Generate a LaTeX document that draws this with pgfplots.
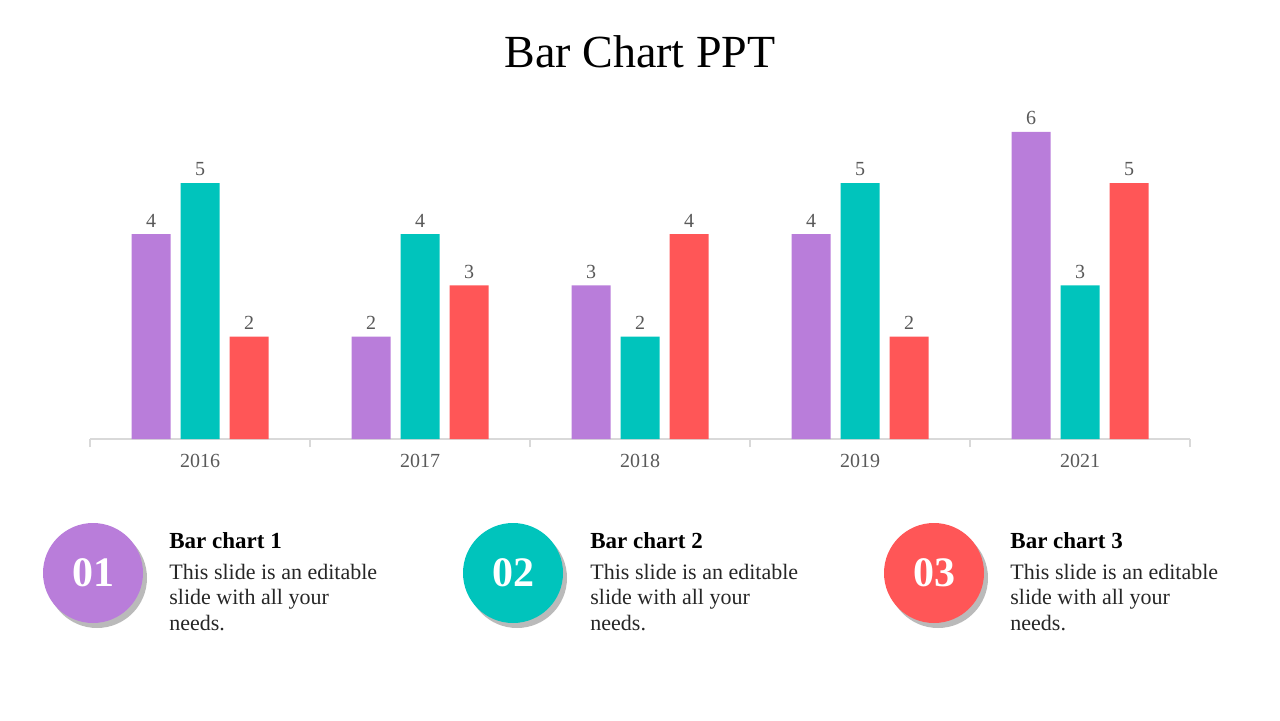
\documentclass[border=0pt]{standalone}
\usepackage{fontspec}
\setmainfont{Liberation Serif}
\usepackage{xcolor}
\definecolor{barPurple}{HTML}{B97DDA}
\definecolor{barTeal}{HTML}{00C4BC}
\definecolor{barRed}{HTML}{FF5657}
\definecolor{axisGray}{HTML}{D9D9D9}
\definecolor{labelGray}{HTML}{595959}
\definecolor{bodyText}{HTML}{262626}
\usepackage{tikz}
\usepackage{pgfplots}
\pgfplotsset{compat=1.18}
\usetikzlibrary{shadows}

\begin{document}
\begin{tikzpicture}
% slide frame, 1 px = 0.5pt
\begin{scope}[x=0.5pt,y=0.5pt]
  \path (0,0) rectangle (1280,720);
  \node[font=\fontsize{23}{27}\selectfont] at (640,668) {Bar Chart PPT};
\end{scope}

\begin{axis}[
    at={(45pt,140.5pt)}, anchor=south west,
    scale only axis, width=550pt, height=179.2pt,
    ybar=5pt, bar width=19.5pt,
    xmin=-0.5, xmax=4.5, ymin=0, ymax=7,
    xtick={0,1,2,3,4},
    xticklabels={2016,2017,2018,2019,2021},
    minor xtick={-0.5,0.5,1.5,2.5,3.5,4.5},
    major tick length=0pt, minor tick length=4pt,
    axis x line=bottom, axis y line=none,
    xtick align=outside,
    axis line style={-, draw=axisGray, line width=0.6pt},
    tick style={draw=axisGray, line width=0.6pt},
    xticklabel style={font=\fontsize{10}{12}\selectfont, text=labelGray, yshift=-4pt},
    /pgf/number format/assume math mode=true,
    nodes near coords,
    nodes near coords style={font=\fontsize{10}{12}\selectfont, text=labelGray},
    clip=false,
  ]
  \addplot[fill=barPurple, draw=none] coordinates {(0,4) (1,2) (2,3) (3,4) (4,6)};
  \addplot[fill=barTeal, draw=none] coordinates {(0,5) (1,4) (2,2) (3,5) (4,3)};
  \addplot[fill=barRed, draw=none] coordinates {(0,2) (1,3) (2,4) (3,2) (4,5)};
\end{axis}

\begin{scope}[x=0.5pt,y=0.5pt]
  \foreach \cx/\col/\num/\tx/\nm in {93/barPurple/01/169/1, 513/barTeal/02/590/2, 934/barRed/03/1010/3} {
    \node[circle, minimum size=50pt, inner sep=0pt, fill=\col,
          drop shadow={shadow xshift=2pt, shadow yshift=-2.5pt, fill=black!45, opacity=0.6},
          text=white, font=\bfseries\fontsize{21}{24}\selectfont] at (\cx,147) {\num};
    \node[anchor=base west, inner sep=0pt, font=\bfseries\fontsize{11.5}{14}\selectfont] at (\tx,172) {Bar chart \nm};
    \node[anchor=base west, inner sep=0pt, text=bodyText, font=\fontsize{11}{13}\selectfont] at (\tx,141) {This slide is an editable};
    \node[anchor=base west, inner sep=0pt, text=bodyText, font=\fontsize{11}{13}\selectfont] at (\tx,115.5) {slide with all your};
    \node[anchor=base west, inner sep=0pt, text=bodyText, font=\fontsize{11}{13}\selectfont] at (\tx,90) {needs.};
  }
\end{scope}
\end{tikzpicture}
\end{document}
